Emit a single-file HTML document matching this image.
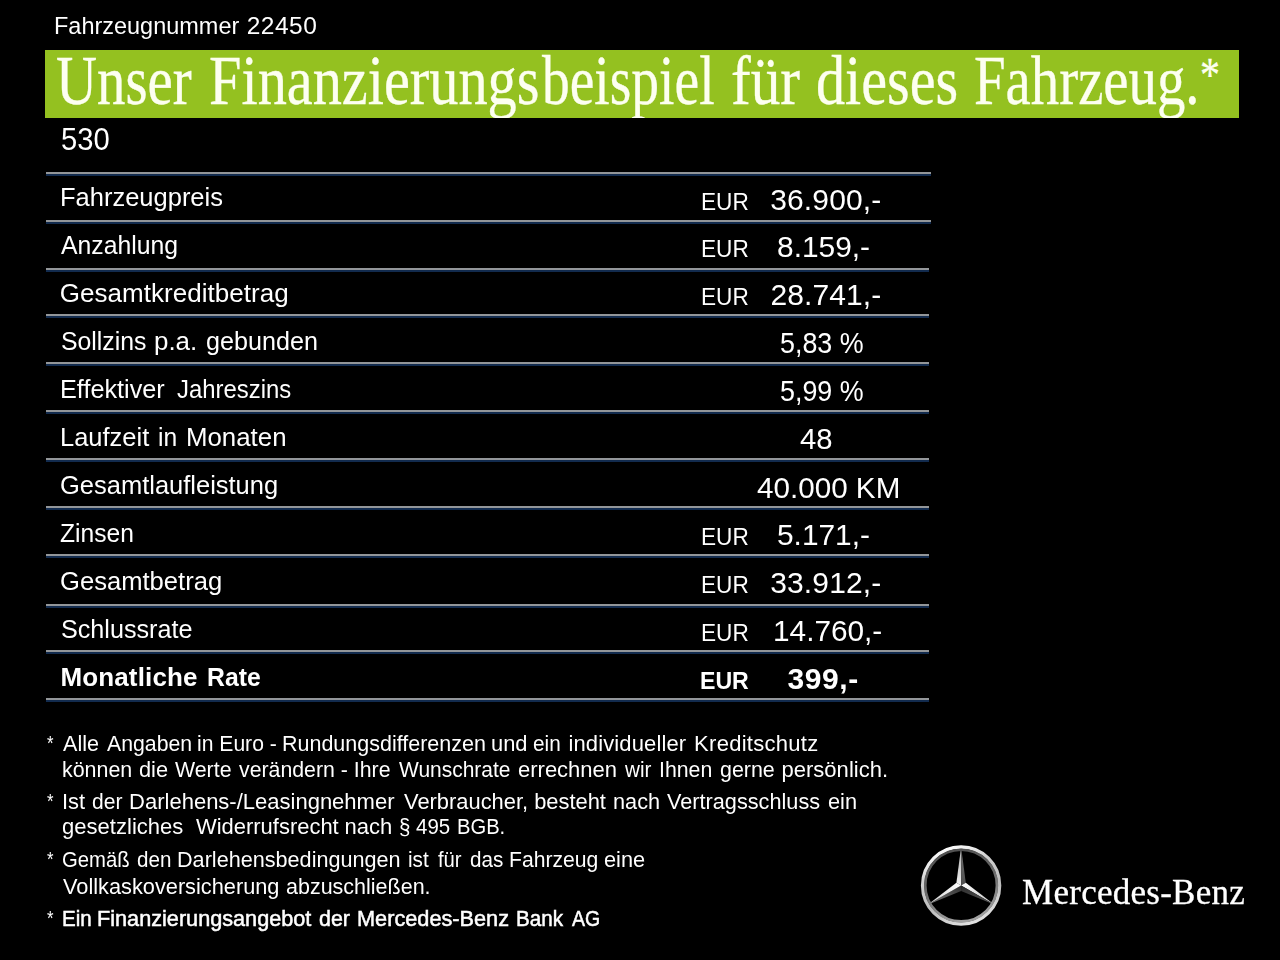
<!DOCTYPE html>
<html lang="de">
<head>
<meta charset="utf-8">
<title>Finanzierungsbeispiel</title>
<style>
html,body{margin:0;padding:0;background:#000;}
body{width:1280px;height:960px;position:relative;overflow:hidden;font-family:"Liberation Sans",sans-serif;}
.t{position:absolute;white-space:pre;line-height:1;transform-origin:0 0;color:#fff;}
.sans{font-family:"Liberation Sans",sans-serif;font-weight:400}
.bold{font-family:"Liberation Sans",sans-serif;font-weight:700}
.demi{font-family:"Liberation Sans",sans-serif;font-weight:400;-webkit-text-stroke:0.5px #fff}
.serif{font-family:"Liberation Serif",serif;font-weight:400}
.ttl{-webkit-text-stroke:0.35px #fdfff0}
.mb{-webkit-text-stroke:0.3px #fff}
.layer{position:absolute;left:0;top:0;width:1280px;height:960px;will-change:transform;}
.bar{position:absolute;left:45px;top:50px;width:1193.5px;height:68px;background:#94c120;overflow:hidden;}
.ln{position:absolute;left:45.5px;height:4px;background:linear-gradient(#939699 0,#939699 46%,#122b4e 46%,#122b4e 100%);}
</style>
</head>
<body>
<div class="bar">
<span class="t serif ttl" style="font-size:69px;color:#fdfff0;left:11.41px;top:-3px;transform:scaleX(0.8234);">Unser</span>
<span class="t serif ttl" style="font-size:69px;color:#fdfff0;left:163.72px;top:-3px;transform:scaleX(0.8454);">Finanzierungs</span>
<span class="t serif ttl" style="font-size:69px;color:#fdfff0;left:496.90px;top:-3px;transform:scaleX(0.8040);">beispiel</span>
<span class="t serif ttl" style="font-size:69px;color:#fdfff0;left:686.08px;top:-3px;transform:scaleX(0.8580);">für</span>
<span class="t serif ttl" style="font-size:69px;color:#fdfff0;left:770.80px;top:-3px;transform:scaleX(0.8429);">dieses</span>
<span class="t serif ttl" style="font-size:69px;color:#fdfff0;left:928.76px;top:-3px;transform:scaleX(0.8233);">Fahrzeug.</span>
<span class="t serif ttl" style="font-size:49px;color:#fdfff0;left:1154.75px;top:0px;transform:scaleX(0.8147);">*</span>
</div>
<div class="ln" style="top:172px;width:885.0px"></div>
<div class="ln" style="top:220px;width:885.0px"></div>
<div class="ln" style="top:268px;width:883.5px"></div>
<div class="ln" style="top:314px;width:883.5px"></div>
<div class="ln" style="top:362px;width:883.5px"></div>
<div class="ln" style="top:410px;width:883.5px"></div>
<div class="ln" style="top:458px;width:883.5px"></div>
<div class="ln" style="top:506px;width:883.5px"></div>
<div class="ln" style="top:554px;width:883.5px"></div>
<div class="ln" style="top:603.5px;width:883.5px"></div>
<div class="ln" style="top:650px;width:883.5px"></div>
<div class="ln" style="top:698px;width:883.5px"></div>
<div class="layer">
<span class="t sans" style="font-size:24.5px;left:53.97px;top:14px;transform:scaleX(0.9581);">Fahrzeugnummer</span>
<span class="t sans" style="font-size:24.5px;left:246.67px;top:14px;letter-spacing:0.500px;">22450</span>
<span class="t sans" style="font-size:31px;left:61.33px;top:124px;transform:scaleX(0.9415);">530</span>
<span class="t sans" style="font-size:26px;left:59.56px;top:184px;transform:scaleX(0.9805);">Fahrzeugpreis</span>
<span class="t sans" style="font-size:26px;left:61.10px;top:232px;transform:scaleX(0.9528);">Anzahlung</span>
<span class="t sans" style="font-size:26px;left:59.84px;top:280px;letter-spacing:0.036px;">Gesamtkreditbetrag</span>
<span class="t sans" style="font-size:26px;left:59.87px;top:472px;transform:scaleX(0.9801);">Gesamtlaufleistung</span>
<span class="t sans" style="font-size:26px;left:60.37px;top:520px;transform:scaleX(0.9459);">Zinsen</span>
<span class="t sans" style="font-size:26px;left:59.86px;top:568px;transform:scaleX(0.9841);">Gesamtbetrag</span>
<span class="t sans" style="font-size:26px;left:60.51px;top:616px;transform:scaleX(0.9677);">Schlussrate</span>
<span class="t sans" style="font-size:26px;left:60.52px;top:328px;transform:scaleX(0.9540);">Sollzins</span>
<span class="t sans" style="font-size:26px;left:154.23px;top:328px;transform:scaleX(0.9968);">p.a.</span>
<span class="t sans" style="font-size:26px;left:206.34px;top:328px;transform:scaleX(0.9672);">gebunden</span>
<span class="t sans" style="font-size:26px;left:60.33px;top:376px;transform:scaleX(0.9702);">Effektiver</span>
<span class="t sans" style="font-size:26px;left:177.03px;top:376px;transform:scaleX(0.9188);">Jahreszins</span>
<span class="t sans" style="font-size:26px;left:60.06px;top:424px;transform:scaleX(0.9797);">Laufzeit</span>
<span class="t sans" style="font-size:26px;left:158.25px;top:424px;transform:scaleX(0.9481);">in</span>
<span class="t sans" style="font-size:26px;left:185.78px;top:424px;transform:scaleX(0.9932);">Monaten</span>
<span class="t bold" style="font-size:26px;left:60.41px;top:664px;letter-spacing:0.142px;">Monatliche</span>
<span class="t bold" style="font-size:26px;left:206.74px;top:664px;transform:scaleX(0.9529);">Rate</span>
<span class="t sans" style="font-size:24.5px;left:700.74px;top:190px;transform:scaleX(0.9241);">EUR</span>
<span class="t sans" style="font-size:24.5px;left:700.74px;top:237px;transform:scaleX(0.9241);">EUR</span>
<span class="t sans" style="font-size:24.5px;left:700.74px;top:285px;transform:scaleX(0.9241);">EUR</span>
<span class="t sans" style="font-size:24.5px;left:700.74px;top:525px;transform:scaleX(0.9241);">EUR</span>
<span class="t sans" style="font-size:24.5px;left:700.74px;top:573px;transform:scaleX(0.9241);">EUR</span>
<span class="t sans" style="font-size:24.5px;left:700.74px;top:621px;transform:scaleX(0.9241);">EUR</span>
<span class="t bold" style="font-size:24.5px;left:699.75px;top:669px;transform:scaleX(0.9437);">EUR</span>
<span class="t sans" style="font-size:30px;left:770.26px;top:185px;letter-spacing:0.126px;">36.900,-</span>
<span class="t sans" style="font-size:30px;left:776.85px;top:232px;transform:scaleX(0.9965);">8.159,-</span>
<span class="t sans" style="font-size:30px;left:770.39px;top:280px;letter-spacing:0.107px;">28.741,-</span>
<span class="t sans" style="font-size:30px;left:780.32px;top:328px;transform:scaleX(0.8954);">5,83 %</span>
<span class="t sans" style="font-size:30px;left:780.32px;top:376px;transform:scaleX(0.8954);">5,99 %</span>
<span class="t sans" style="font-size:30px;left:800.33px;top:424px;transform:scaleX(0.9751);">48</span>
<span class="t sans" style="font-size:30px;left:756.82px;top:473px;transform:scaleX(0.9877);">40.000 KM</span>
<span class="t sans" style="font-size:30px;left:776.95px;top:520px;transform:scaleX(0.9954);">5.171,-</span>
<span class="t sans" style="font-size:30px;left:770.26px;top:568px;letter-spacing:0.126px;">33.912,-</span>
<span class="t sans" style="font-size:30px;left:772.53px;top:616px;transform:scaleX(0.9927);">14.760,-</span>
<span class="t bold" style="font-size:30px;left:787.61px;top:664px;letter-spacing:0.550px;">399,-</span>
<span class="t sans" style="font-size:22px;left:63.36px;top:733px;transform:scaleX(0.9799);">Alle</span>
<span class="t sans" style="font-size:22px;left:106.61px;top:733px;transform:scaleX(0.9663);">Angaben</span>
<span class="t sans" style="font-size:22px;left:196.99px;top:733px;transform:scaleX(0.9596);">in Euro -</span>
<span class="t sans" style="font-size:22px;left:281.64px;top:733px;transform:scaleX(0.9765);">Rundungsdifferenzen</span>
<span class="t sans" style="font-size:22px;left:490.73px;top:733px;transform:scaleX(0.9949);">und</span>
<span class="t sans" style="font-size:22px;left:533.27px;top:733px;transform:scaleX(0.9427);">ein</span>
<span class="t sans" style="font-size:22px;left:568.43px;top:733px;letter-spacing:0.133px;">individueller</span>
<span class="t sans" style="font-size:22px;left:694.10px;top:733px;letter-spacing:0.276px;">Kreditschutz</span>
<span class="t sans" style="font-size:22px;left:61.96px;top:759px;transform:scaleX(0.9736);">können</span>
<span class="t sans" style="font-size:22px;left:138.98px;top:759px;transform:scaleX(0.9906);">die</span>
<span class="t sans" style="font-size:22px;left:175.31px;top:759px;transform:scaleX(0.9693);">Werte</span>
<span class="t sans" style="font-size:22px;left:239.08px;top:759px;transform:scaleX(0.9677);">verändern - Ihre</span>
<span class="t sans" style="font-size:22px;left:399.06px;top:759px;transform:scaleX(0.9529);">Wunschrate</span>
<span class="t sans" style="font-size:22px;left:518.22px;top:759px;transform:scaleX(0.9998);">errechnen</span>
<span class="t sans" style="font-size:22px;left:625.43px;top:759px;transform:scaleX(0.9396);">wir</span>
<span class="t sans" style="font-size:22px;left:658.93px;top:759px;transform:scaleX(0.9680);">Ihnen</span>
<span class="t sans" style="font-size:22px;left:719.50px;top:759px;transform:scaleX(0.9737);">gerne</span>
<span class="t sans" style="font-size:22px;left:781.48px;top:759px;letter-spacing:0.024px;">persönlich.</span>
<span class="t sans" style="font-size:22px;left:61.63px;top:791px;transform:scaleX(0.9956);">Ist</span>
<span class="t sans" style="font-size:22px;left:92.02px;top:791px;transform:scaleX(0.9571);">der</span>
<span class="t sans" style="font-size:22px;left:129.10px;top:791px;transform:scaleX(1.0000);">Darlehens-/Leasingnehmer</span>
<span class="t sans" style="font-size:22px;left:404.05px;top:791px;transform:scaleX(0.9947);">Verbraucher, besteht</span>
<span class="t sans" style="font-size:22px;left:612.71px;top:791px;transform:scaleX(0.9860);">nach</span>
<span class="t sans" style="font-size:22px;left:667.30px;top:791px;transform:scaleX(0.9857);">Vertragsschluss</span>
<span class="t sans" style="font-size:22px;left:828.23px;top:791px;transform:scaleX(0.9890);">ein</span>
<span class="t sans" style="font-size:22px;left:61.98px;top:816px;letter-spacing:0.031px;">gesetzliches</span>
<span class="t sans" style="font-size:22px;left:195.80px;top:816px;transform:scaleX(0.9976);">Widerrufsrecht</span>
<span class="t sans" style="font-size:22px;left:344.44px;top:816px;letter-spacing:0.040px;">nach</span>
<span class="t sans" style="font-size:22px;left:399.25px;top:816px;transform:scaleX(0.9300);">§ 495</span>
<span class="t sans" style="font-size:22px;left:456.75px;top:816px;transform:scaleX(0.9166);">BGB.</span>
<span class="t sans" style="font-size:22px;left:62.38px;top:849px;transform:scaleX(0.9208);">Gemäß</span>
<span class="t sans" style="font-size:22px;left:137.03px;top:849px;transform:scaleX(0.9370);">den</span>
<span class="t sans" style="font-size:22px;left:177.38px;top:849px;transform:scaleX(0.9828);">Darlehensbedingungen</span>
<span class="t sans" style="font-size:22px;left:407.76px;top:849px;transform:scaleX(0.9427);">ist</span>
<span class="t sans" style="font-size:22px;left:437.61px;top:849px;transform:scaleX(0.9176);">für</span>
<span class="t sans" style="font-size:22px;left:469.53px;top:849px;transform:scaleX(0.9388);">das</span>
<span class="t sans" style="font-size:22px;left:509.17px;top:849px;transform:scaleX(0.9607);">Fahrzeug</span>
<span class="t sans" style="font-size:22px;left:604.48px;top:849px;transform:scaleX(0.9879);">eine</span>
<span class="t sans" style="font-size:22px;left:63.30px;top:876px;transform:scaleX(0.9888);">Vollkaskoversicherung</span>
<span class="t sans" style="font-size:22px;left:285.74px;top:876px;transform:scaleX(0.9770);">abzuschließen.</span>
<span class="t demi" style="font-size:22px;left:62.46px;top:908px;transform:scaleX(0.9348);">Ein</span>
<span class="t demi" style="font-size:22px;left:97.37px;top:908px;transform:scaleX(0.9847);">Finanzierungsangebot</span>
<span class="t demi" style="font-size:22px;left:319.00px;top:908px;transform:scaleX(0.9735);">der</span>
<span class="t demi" style="font-size:22px;left:356.62px;top:908px;transform:scaleX(0.9869);">Mercedes-Benz</span>
<span class="t demi" style="font-size:22px;left:516.20px;top:908px;transform:scaleX(0.9394);">Bank</span>
<span class="t demi" style="font-size:22px;left:571.61px;top:908px;transform:scaleX(0.8867);">AG</span>
<span class="t sans" style="font-size:20px;left:46.73px;top:733px;transform:scaleX(0.8377);">*</span>
<span class="t sans" style="font-size:20px;left:46.73px;top:791px;transform:scaleX(0.8377);">*</span>
<span class="t sans" style="font-size:20px;left:46.73px;top:849px;transform:scaleX(0.8377);">*</span>
<span class="t sans" style="font-size:20px;left:46.73px;top:908px;transform:scaleX(0.8377);">*</span>
<span class="t serif mb" style="font-size:35px;left:1022.09px;top:875px;letter-spacing:0.256px;">Mercedes-Benz</span>
</div>
<svg class="logo" width="1280" height="960" viewBox="0 0 1280 960" style="position:absolute;left:0;top:0">
<defs>
<linearGradient id="gRing" x1="0.3" y1="0" x2="0.7" y2="1"><stop offset="0" stop-color="#ffffff"/><stop offset=".3" stop-color="#cfcfcf"/><stop offset=".65" stop-color="#bcbcbc"/><stop offset="1" stop-color="#e4e4e4"/></linearGradient>
<linearGradient id="gRing2" x1="0.2" y1="0" x2="0.5" y2="1"><stop offset="0" stop-color="#4e4e4e"/><stop offset=".5" stop-color="#6a6a6a"/><stop offset="1" stop-color="#a2a2a2"/></linearGradient>
<linearGradient id="gTopL" x1="0" y1="0" x2="0" y2="1"><stop offset="0" stop-color="#a8a8a8"/><stop offset="1" stop-color="#f4f4f4"/></linearGradient>
<linearGradient id="gTopR" x1="0" y1="0" x2="0" y2="1"><stop offset="0" stop-color="#727272"/><stop offset="1" stop-color="#505050"/></linearGradient>
<linearGradient id="gBLu" x1="0" y1="1" x2="1" y2="0"><stop offset="0" stop-color="#cdcdcd"/><stop offset="1" stop-color="#ffffff"/></linearGradient>
<linearGradient id="gBLl" x1="0" y1="1" x2="1" y2="0"><stop offset="0" stop-color="#808080"/><stop offset="1" stop-color="#303030"/></linearGradient>
<linearGradient id="gBRu" x1="1" y1="1" x2="0" y2="0"><stop offset="0" stop-color="#c4c4c4"/><stop offset="1" stop-color="#ffffff"/></linearGradient>
<linearGradient id="gBRl" x1="1" y1="1" x2="0" y2="0"><stop offset="0" stop-color="#5c5c5c"/><stop offset="1" stop-color="#2c2c2c"/></linearGradient>
</defs>
<polygon points="961.10,846.90 956.42,882.80 961.10,885.50" fill="url(#gTopL)"/>
<polygon points="961.10,846.90 965.78,882.80 961.10,885.50" fill="url(#gTopR)"/>
<polygon points="994.53,904.80 965.78,882.80 961.10,885.50" fill="url(#gBRu)"/>
<polygon points="994.53,904.80 961.10,890.90 961.10,885.50" fill="url(#gBRl)"/>
<polygon points="927.67,904.80 961.10,890.90 961.10,885.50" fill="url(#gBLl)"/>
<polygon points="927.67,904.80 956.42,882.80 961.10,885.50" fill="url(#gBLu)"/>
<circle cx="961.1" cy="885.5" r="38.5" fill="none" stroke="url(#gRing)" stroke-width="3.4"/>
<circle cx="961.1" cy="885.5" r="35.8" fill="none" stroke="url(#gRing2)" stroke-width="2.6"/>
</svg>
</body>
</html>
